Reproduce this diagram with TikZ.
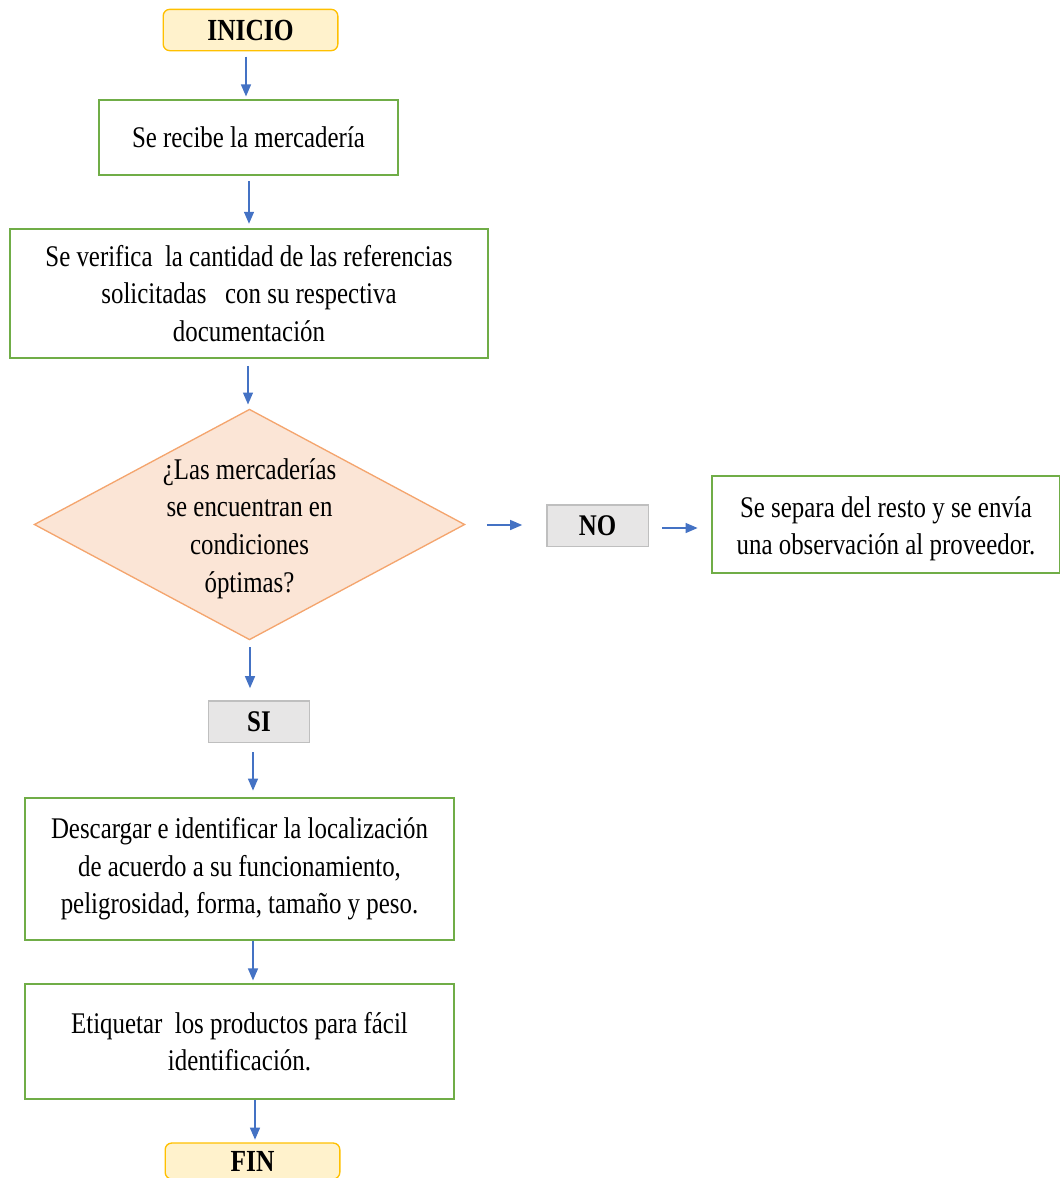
\documentclass[tikz,border=0pt]{standalone}
\usepackage{fontspec}
\setmainfont[FakeStretch=0.83]{Liberation Serif}
\usepackage{tikz}
\usetikzlibrary{arrows.meta,shapes.geometric}

\definecolor{boxgreen}{HTML}{70AD47}
\definecolor{startfill}{HTML}{FFF2CC}
\definecolor{startline}{HTML}{FFC000}
\definecolor{qfill}{HTML}{FBE5D6}
\definecolor{qline}{HTML}{F4A56E}
\definecolor{ansfill}{HTML}{E7E6E6}
\definecolor{ansline}{HTML}{BFBFBF}
\definecolor{arrowblue}{HTML}{4472C4}

\begin{document}
\begin{tikzpicture}[x=0.75pt, y=-0.75pt,
    every node/.style={font=\fontsize{22.5}{28.2}\selectfont, align=center},
    terminal/.style={draw=startline, fill=startfill, line width=1pt, rounded corners=5pt,
      minimum width=131pt, minimum height=31pt, inner sep=0pt, font=\fontsize{23}{27}\selectfont\bfseries},
    process/.style={draw=boxgreen, line width=1.6pt, inner sep=0pt},
    decision/.style={diamond, draw=qline, fill=qfill, line width=1pt, inner sep=0pt,
      minimum width=323pt, minimum height=173pt},
    answer/.style={draw=ansline, fill=ansfill, line width=1pt, minimum width=76pt,
      minimum height=31pt, inner sep=0pt, font=\fontsize{22.5}{27}\selectfont\bfseries},
    flow/.style={draw=arrowblue, line width=1pt, -{Triangle[length=9pt,width=7.5pt]}}]
      \useasboundingbox (0,0) rectangle (1060,1178);

      % Start and end
      \node[terminal] (inicio) at (250.5,30) {INICIO};
      \node[terminal, minimum height=27pt] (fin) at (252.5,1161) {FIN};

      % Process boxes
      \node[process, minimum width=224pt, minimum height=56pt] (recibe) at (248.5,137.5)
        {Se recibe la mercadería};
      \node[process, minimum width=358pt, minimum height=97pt] (verifica) at (249,293.5)
        {Se verifica\ \ la cantidad de las referencias\\solicitadas\ \ \ con su respectiva\\documentación};
      \node[process, minimum width=261pt, minimum height=73pt] (separa) at (886,524.5)
        {\rule{0pt}{22pt}Se separa del resto y se envía\\una observación al proveedor.};
      \node[process, minimum width=322pt, minimum height=106pt] (descarga) at (239.5,869)
        {Descargar e identificar\ la localización\\de acuerdo a su funcionamiento,\\peligrosidad,\ forma, tamaño y peso.};
      \node[process, minimum width=322pt, minimum height=86pt] (etiqueta) at (239.5,1041.5)
        {Etiquetar\ \ los productos para fácil\\identificación.};

      % Decision and answers
      \node[decision, label={[align=center, yshift=-3pt]center:¿Las mercaderías\\se encuentran en\\condiciones\\óptimas?}] (pregunta) at (249.5,524.5) {};
      \node[answer] (no) at (597.5,525.5) {NO};
      \node[answer] (si) at (259,721.5) {SI};

      % Connectors
      \draw[flow, shorten <=4pt, shorten >=2pt] (inicio.south -| 246,0) -- (recibe.north -| 246,0);
      \draw[flow, shorten <=4pt, shorten >=3pt] (recibe.south -| 249,0) -- (verifica.north -| 249,0);
      \draw[flow, shorten <=5pt, shorten >=3pt] (verifica.south -| 248,0) -- (pregunta.north -| 248,0);
      \draw[flow, shorten <=16pt, shorten >=18pt] (pregunta.east |- 0,525) -- (no.west |- 0,525);
      \draw[flow, shorten <=10pt, shorten >=10pt] (no.east |- 0,528) -- (separa.west |- 0,528);
      \draw[flow, shorten <=5pt, shorten >=9pt] (pregunta.south -| 250,0) -- (si.north -| 250,0);
      \draw[flow, shorten <=7pt, shorten >=5pt] (si.south -| 253,0) -- (descarga.north -| 253,0);
      \draw[flow, shorten >=2pt] (descarga.south -| 253,0) -- (etiqueta.north -| 253,0);
      \draw[flow, shorten >=2pt] (etiqueta.south -| 255,0) -- (fin.north -| 255,0);
\end{tikzpicture}
\end{document}
